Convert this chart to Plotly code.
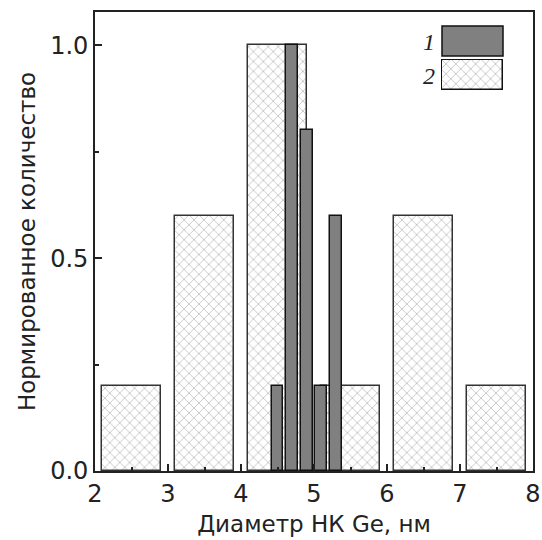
import plotly.graph_objects as go

# Series 2 (hatched): diameter bins and normalized counts
d2 = [2.5, 3.5, 4.5, 5.5, 6.5, 7.5]
n2 = [0.2, 0.6, 1.0, 0.2, 0.6, 0.2]
# Series 1 (solid gray)
d1 = [4.5, 4.7, 4.9, 5.1, 5.3]
n1 = [0.2, 1.0, 0.8, 0.2, 0.6]
labels = ["1", "2"]

W, H = 542, 540
ml, mr, mt, mb = 95, 9, 12, 69
pw, ph = W - ml - mr, H - mt - mb

def px_x(p):
    return (p - ml) / pw

def px_y(p):
    return (H - mb - p) / ph

hatch = dict(shape="x", fgcolor="#8a8a8a", bgcolor="white", size=7, solidity=0.24)

fig = go.Figure()
fig.add_trace(go.Bar(
    x=d2, y=n2, width=0.8,
    marker=dict(color="white", line=dict(color="#333", width=1.5), pattern=hatch),
    showlegend=False))
fig.add_trace(go.Bar(
    x=d1, y=n1, width=0.16,
    marker=dict(color="#808080", line=dict(color="#111", width=1.5)),
    showlegend=False))

# legend swatch for series 2 on its own small axis
fig.add_trace(go.Bar(
    x=[0], y=[1], width=1, xaxis="x2", yaxis="y2",
    marker=dict(color="white", line=dict(color="#111", width=1.5), pattern=hatch),
    showlegend=False, hoverinfo="skip"))

fig.add_shape(type="rect", xref="paper", yref="paper",
              x0=px_x(442), x1=px_x(503), y0=px_y(56), y1=px_y(26),
              fillcolor="#808080", line=dict(color="#111", width=1.5))

for lab, py in zip(labels, [42, 76]):
    fig.add_annotation(text=lab, xref="paper", yref="paper", x=px_x(437), y=px_y(py),
                       xanchor="right", yanchor="middle", showarrow=False,
                       font=dict(family="Liberation Serif", size=24, color="#222", style="italic"))

FONT = "DejaVu Sans"
axis_common = dict(showline=True, linecolor="#222", linewidth=1.6, mirror=True,
                   ticks="inside", ticklen=7, tickwidth=1.5, tickcolor="#222",
                   showgrid=False, zeroline=False, automargin=False,
                   tickfont=dict(family=FONT, size=24, color="#222"))

fig.update_layout(
    width=W, height=H, margin=dict(l=ml, r=mr, t=mt, b=mb, autoexpand=False),
    plot_bgcolor="white", paper_bgcolor="white",
    barmode="overlay", bargap=0,
    xaxis=dict(range=[2, 8], dtick=1, tick0=2,
               minor=dict(dtick=0.5, ticks="inside", ticklen=4, tickwidth=1.5, tickcolor="#222"),
               title=dict(text="Диаметр НК Ge, нм", standoff=9,
                          font=dict(family=FONT, size=23, color="#222")),
               **axis_common),
    yaxis=dict(range=[0, 1.078], dtick=0.5, tick0=0, tickformat=".1f",
               minor=dict(dtick=0.25, ticks="inside", ticklen=4, tickwidth=1.5, tickcolor="#222"),
               title=dict(text="Нормированное количество", standoff=8,
                          font=dict(family=FONT, size=23, color="#222")),
               **axis_common),
    xaxis2=dict(domain=[px_x(441), px_x(504)], range=[-0.516, 0.516], anchor="y2",
                visible=False, fixedrange=True),
    yaxis2=dict(domain=[px_y(91), px_y(59)], range=[-0.03, 1.03], anchor="x2",
                visible=False, fixedrange=True),
)
fig.write_html("out.html")
